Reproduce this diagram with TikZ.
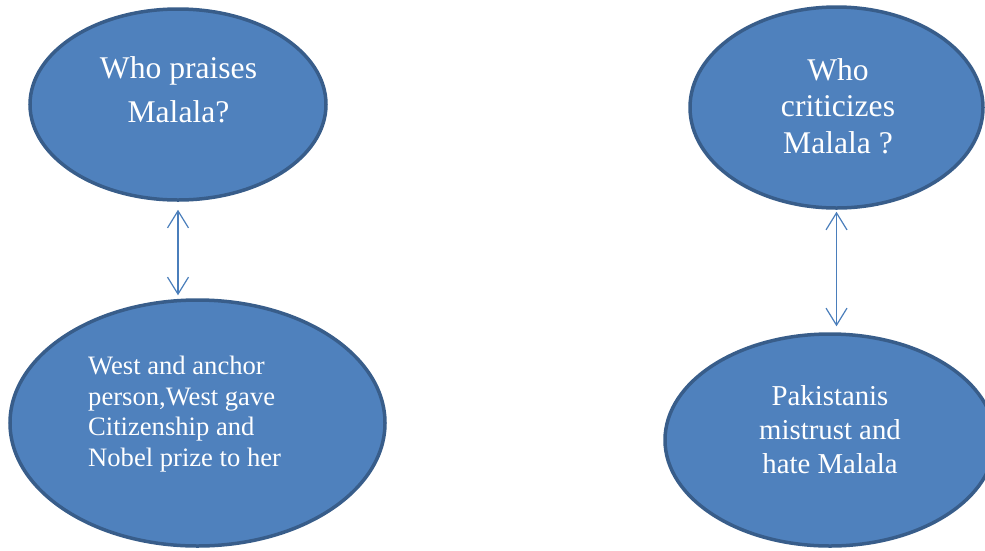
\documentclass[tikz,border=0pt]{standalone}
\usepackage{fontspec}
\setmainfont{Liberation Serif}
\usetikzlibrary{arrows.meta,shapes.geometric}

\definecolor{bubblefill}{HTML}{4F81BD}
\definecolor{bubbleedge}{HTML}{385D8A}
\definecolor{linkblue}{HTML}{4A7EBB}

\tikzset{
  bubble/.style={ellipse, fill=bubblefill, draw=bubbleedge, line width=3.5pt, inner sep=0pt},
  caption/.style={text=white, inner sep=0pt},
  conn/.style={draw=linkblue, line width=1.2pt,
    {Straight Barb[length=17pt,width=21pt]}-{Straight Barb[length=17pt,width=21pt]}}
}

\begin{document}
\begin{tikzpicture}[x=1pt,y=-1pt]
\useasboundingbox (0,0) rectangle (985,550);

% the four ellipses
\node[bubble, minimum width=296pt, minimum height=191pt] (praise) at (178,104.5) {};
\node[bubble, minimum width=293pt, minimum height=201pt] (critic) at (836.5,107.5) {};
\node[bubble, minimum width=375pt, minimum height=246pt] (west) at (197.5,423) {};
\node[bubble, minimum width=330pt, minimum height=212pt] (pak) at (830,440) {};

% their texts (anchored at the baseline of the last line)
\node[caption, align=center, anchor=base, font=\fontsize{31.6}{44}\selectfont]
  (praiseText) at (178.5,122) {Who praises\\Malala?};
\node[caption, align=center, anchor=base, font=\fontsize{31.6}{36.5}\selectfont]
  (criticText) at (838,153) {Who\\criticizes\\Malala ?};
\node[caption, align=left, anchor=base west, font=\fontsize{26.6}{30.5}\selectfont]
  (westText) at (88,466) {West and anchor\\person,West gave\\Citizenship and\\Nobel prize to her};
\node[caption, align=center, anchor=base, font=\fontsize{28.8}{34}\selectfont]
  (pakText) at (830,473) {Pakistanis\\mistrust and\\hate Malala};

% two-way links
\draw[conn, shorten <=8pt, shorten >=3pt] (praise.south) -- (praise.south |- west.north);
\draw[conn, shorten <=2pt, shorten >=6pt] (critic.south) -- (critic.south |- pak.north);
\end{tikzpicture}
\end{document}
